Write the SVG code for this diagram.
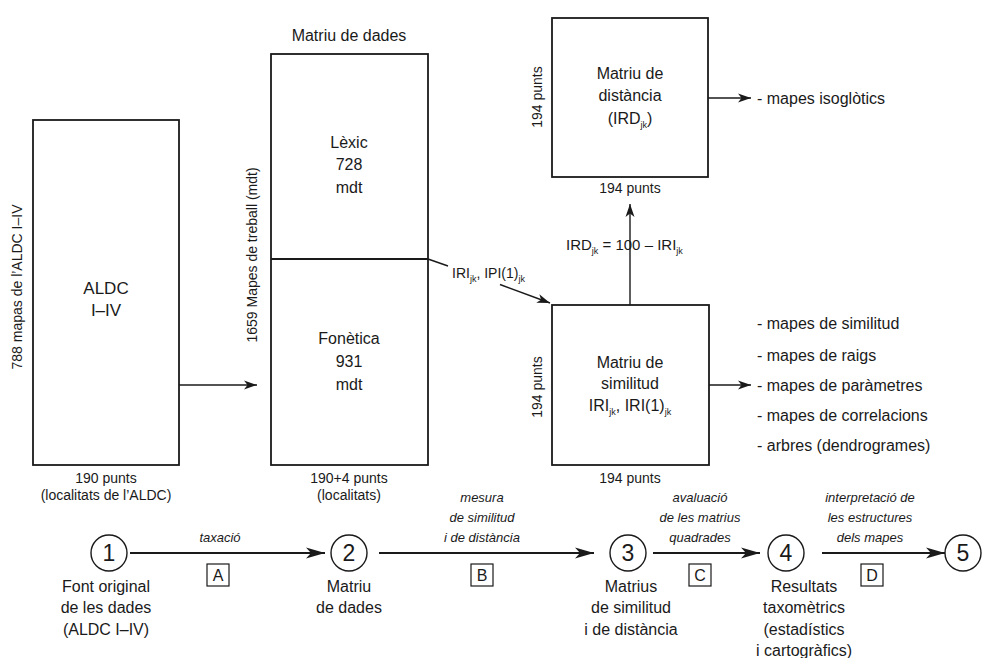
<svg xmlns="http://www.w3.org/2000/svg" width="994" height="658" viewBox="0 0 994 658">
<style>
text,tspan{font-family:"Liberation Sans",Arial,sans-serif;fill:#1a1a1a}
.t16{font-size:16px}
.t14{font-size:14px}
.t15{font-size:15px}
.it{font-size:13px;font-style:italic}
.m{text-anchor:middle}
.box{fill:none;stroke:#1a1a1a;stroke-width:1.8}
.ln{fill:none;stroke:#1a1a1a;stroke-width:1.4}
.fl{fill:none;stroke:#1a1a1a;stroke-width:1.8}
.circ{fill:none;stroke:#1a1a1a;stroke-width:1.4}
.lb{fill:none;stroke:#1a1a1a;stroke-width:1.2}
.sub{font-size:9px}
</style>
<defs>
<marker id="ah" markerUnits="userSpaceOnUse" markerWidth="14" markerHeight="10" refX="13" refY="5" orient="auto">
<path d="M0,0.5 L13,5 L0,9.5 L3.5,5 z" fill="#1a1a1a"/>
</marker>
<marker id="ahb" markerUnits="userSpaceOnUse" markerWidth="20" markerHeight="12" refX="19" refY="6" orient="auto">
<path d="M0,0.5 L19,6 L0,11.5 L5,6 z" fill="#1a1a1a"/>
</marker>
</defs>

<g id="aldc">
<rect class="box" x="33" y="120" width="146" height="345"/>
<text class="m" x="106" y="294" style="font-size:17px">ALDC</text>
<text class="m" x="106" y="316" style="font-size:17px">I–IV</text>
<text class="t14 m" x="22" y="287" transform="rotate(-90 22 287)">788 mapas de l’ALDC I–IV</text>
<text class="t14 m" x="106" y="483">190 punts</text>
<text class="t14 m" x="106" y="500">(localitats de l’ALDC)</text>
</g>

<g id="matriu-dades">
<text class="t16 m" x="349" y="41">Matriu de dades</text>
<rect class="box" x="271" y="54" width="157" height="411"/>
<line class="box" x1="271" y1="259" x2="428" y2="259"/>
<text class="t16 m" x="349" y="148">Lèxic</text>
<text class="t16 m" x="349" y="170">728</text>
<text class="t16 m" x="349" y="193">mdt</text>
<text class="t16 m" x="349" y="344">Fonètica</text>
<text class="t16 m" x="349" y="367">931</text>
<text class="t16 m" x="349" y="390">mdt</text>
<text class="t14 m" x="257" y="255" transform="rotate(-90 257 255)">1659 Mapes de treball (mdt)</text>
<text class="t14 m" x="349" y="483">190+4 punts</text>
<text class="t14 m" x="349" y="500">(localitats)</text>
</g>

<g id="matriu-distancia">
<rect class="box" x="552" y="18" width="156" height="159"/>
<text class="t16 m" x="630" y="79">Matriu de</text>
<text class="t16 m" x="630" y="101">distància</text>
<text class="t16 m" x="630" y="124">(IRD<tspan class="sub" dy="4">jk</tspan><tspan dy="-4">)</tspan></text>
<text class="t14 m" x="542" y="97" transform="rotate(-90 542 97)">194 punts</text>
<text class="t14 m" x="630" y="193">194 punts</text>
<text class="t16" x="757" y="104">- mapes isoglòtics</text>
</g>

<g id="matriu-similitud">
<rect class="box" x="552" y="305" width="157" height="160"/>
<text class="t16 m" x="630" y="368">Matriu de</text>
<text class="t16 m" x="630" y="389">similitud</text>
<text class="t16 m" x="630" y="411">IRI<tspan class="sub" dy="4">jk</tspan><tspan dy="-4">, IRI(1)</tspan><tspan class="sub" dy="4">jk</tspan></text>
<text class="t14 m" x="542" y="387" transform="rotate(-90 542 387)">194 punts</text>
<text class="t14 m" x="630" y="483">194 punts</text>
<text class="t16" x="757" y="329">- mapes de similitud</text>
<text class="t16" x="757" y="361">- mapes de raigs</text>
<text class="t16" x="757" y="391">- mapes de paràmetres</text>
<text class="t16" x="757" y="421">- mapes de correlacions</text>
<text class="t16" x="757" y="451">- arbres (dendrogrames)</text>
</g>

<g id="connectors">
<line class="ln" x1="179" y1="385" x2="257" y2="385" marker-end="url(#ah)"/>
<line class="ln" x1="428" y1="259" x2="448" y2="266"/>
<line class="ln" x1="500" y1="284.5" x2="550" y2="303" marker-end="url(#ah)"/>
<line class="ln" x1="630" y1="305" x2="630" y2="204" marker-end="url(#ah)"/>
<line class="ln" x1="708" y1="98" x2="751" y2="98" marker-end="url(#ah)"/>
<line class="ln" x1="709" y1="385" x2="751" y2="385" marker-end="url(#ah)"/>
<line class="fl" x1="130" y1="553" x2="325" y2="553" marker-end="url(#ahb)"/>
<line class="fl" x1="379" y1="553" x2="594" y2="553" marker-end="url(#ahb)"/>
<line class="fl" x1="653" y1="553" x2="760" y2="553" marker-end="url(#ahb)"/>
<line class="fl" x1="822" y1="553" x2="945" y2="553" marker-end="url(#ahb)"/>
</g>

<g id="label-iri">
<text class="t14" x="452" y="278">IRI<tspan class="sub" dy="4">jk</tspan><tspan dy="-4">, IPI(1)</tspan><tspan class="sub" dy="4">jk</tspan></text>
</g>
<g id="label-ird">
<text class="t15" x="566" y="250">IRD<tspan class="sub" dy="4">jk</tspan><tspan dy="-4"> = 100 – IRI</tspan><tspan class="sub" dy="4">jk</tspan></text>
</g>

<g id="step1">
<circle class="circ" cx="109" cy="553" r="18"/>
<text class="m" x="109" y="561" style="font-size:23px">1</text>
<text class="t16 m" x="106" y="592">Font original</text>
<text class="t16 m" x="106" y="613">de les dades</text>
<text class="t16 m" x="106" y="635">(ALDC I–IV)</text>
</g>
<g id="step2">
<circle class="circ" cx="349" cy="553" r="18"/>
<text class="m" x="349" y="561" style="font-size:23px">2</text>
<text class="t16 m" x="349" y="592">Matriu</text>
<text class="t16 m" x="349" y="613">de dades</text>
</g>
<g id="step3">
<circle class="circ" cx="628" cy="553" r="18"/>
<text class="m" x="628" y="561" style="font-size:23px">3</text>
<text class="t16 m" x="631" y="592">Matrius</text>
<text class="t16 m" x="631" y="613">de similitud</text>
<text class="t16 m" x="631" y="635">i de distància</text>
</g>
<g id="step4">
<circle class="circ" cx="786" cy="553" r="18"/>
<text class="m" x="786" y="561" style="font-size:23px">4</text>
<text class="t16 m" x="804" y="592">Resultats</text>
<text class="t16 m" x="804" y="613">taxomètrics</text>
<text class="t16 m" x="804" y="635">(estadístics</text>
<text class="t16 m" x="804" y="656">i cartogràfics)</text>
</g>
<g id="step5">
<circle class="circ" cx="963" cy="553" r="18"/>
<text class="m" x="963" y="561" style="font-size:23px">5</text>
</g>

<g id="edge-A">
<text class="it m" x="220" y="542">taxació</text>
<rect class="lb" x="207" y="564" width="22" height="22"/>
<text class="t16 m" x="218" y="581">A</text>
</g>
<g id="edge-B">
<text class="it m" x="482" y="502">mesura</text>
<text class="it m" x="482" y="522">de similitud</text>
<text class="it m" x="482" y="542">i de distància</text>
<rect class="lb" x="471" y="564" width="22" height="22"/>
<text class="t16 m" x="482" y="581">B</text>
</g>
<g id="edge-C">
<text class="it m" x="700" y="502">avaluació</text>
<text class="it m" x="700" y="522">de les matrius</text>
<text class="it m" x="700" y="542">quadrades</text>
<rect class="lb" x="689" y="564" width="22" height="22"/>
<text class="t16 m" x="700" y="581">C</text>
</g>
<g id="edge-D">
<text class="it m" x="870" y="502">interpretació de</text>
<text class="it m" x="870" y="522">les estructures</text>
<text class="it m" x="870" y="542">dels mapes</text>
<rect class="lb" x="861" y="564" width="22" height="22"/>
<text class="t16 m" x="872" y="581">D</text>
</g>
</svg>
